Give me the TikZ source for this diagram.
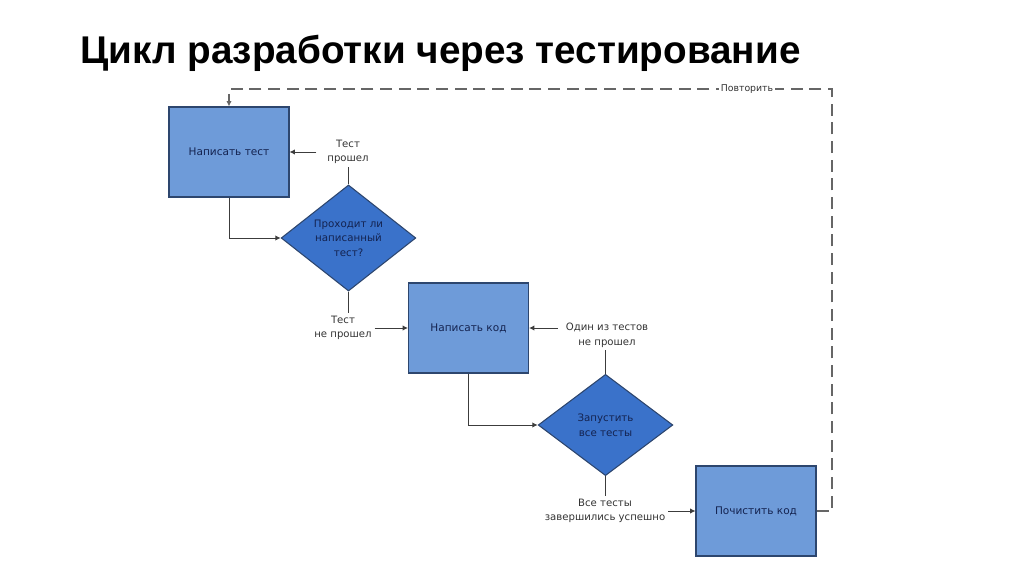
\documentclass[tikz,border=0pt]{standalone}
\usepackage{fontspec}
\setmainfont{DejaVu Sans}
\newfontfamily\titlefont{Liberation Sans}
\usetikzlibrary{arrows.meta,shapes.geometric}

\definecolor{boxblue}{RGB}{110,155,217}
\definecolor{diablue}{RGB}{58,114,202}
\definecolor{edgeblue}{RGB}{45,70,110}
\definecolor{inktext}{RGB}{20,35,80}
\definecolor{linkgray}{RGB}{60,60,60}

\begin{document}
\begin{tikzpicture}[
  x=0.75pt, y=-0.75pt,
  stepbox/.style={rectangle, draw=edgeblue, fill=boxblue, line width=0.8pt,
    minimum width=90pt, minimum height=67.5pt, text=inktext,
    font=\fontsize{7.9}{11}\selectfont},
  decision/.style={diamond, draw=edgeblue, fill=diablue, line width=0.8pt,
    inner sep=0pt, minimum width=101pt, minimum height=76pt, text=inktext,
    align=center, font=\fontsize{7.7}{11}\selectfont},
  note/.style={align=center, text=black!80, inner sep=2pt,
    font=\fontsize{7.6}{11}\selectfont},
  link/.style={draw=linkgray, line width=0.7pt, -{Latex[length=4pt,width=4pt]}},
  plain/.style={draw=linkgray, line width=0.7pt},
  again/.style={draw=black!60, line width=0.8pt, dash pattern=on 9pt off 5pt,
    -{Latex[length=4pt,width=4pt]}}
]
  \useasboundingbox (0,0) rectangle (1024,574);

  % Title
  \node[anchor=base west, inner sep=0pt, font=\titlefont\bfseries\fontsize{29}{34}\selectfont]
    (title) at (80,64) {Цикл разработки через тестирование};

  % Steps
  \node[stepbox] (wtest) at (229,152) {Написать тест};
  \node[decision] (check) at (348.5,238) {Проходит ли\\написанный\\тест?};
  \node[stepbox] (wcode) at (468.5,328) {Написать код};
  \node[decision] (run) at (605.5,425) {Запустить\\все тесты};
  \node[stepbox] (clean) at (756,511) {Почистить код};

  % Outcome labels
  \node[note] (passed) at (348,152) {Тест\\прошел};
  \node[note] (failed) at (343,328) {Тест\\не прошел};
  \node[note] (onefail) at (607,335) {Один из тестов\\не прошел};
  \node[note] (allpass) at (605,511) {Все тесты\\завершились успешно};

  % Flow
  \draw[link] (wtest.south) |- (check.west);
  \draw[plain] (check.north) -- (check.north |- passed.south);
  \draw[link] ([xshift=-6pt]passed.west) -- (wtest.east);
  \draw[plain] (check.south) -- (check.south |- failed.north);
  \draw[link] (failed.east) -- (wcode.west);
  \draw[link] (wcode.south) |- (run.west);
  \draw[plain] (run.north) -- (run.north |- onefail.south);
  \draw[link] ([xshift=-4pt]onefail.west |- wcode.east) -- (wcode.east);
  \draw[plain] (run.south) -- (run.south |- allpass.north);
  \draw[link] (allpass.east) -- (clean.west);

  % Repeat loop
  \coordinate (corner) at (832,89);
  \draw[again] (clean.east) -| (corner) -| (wtest.north);
  \node[note, fill=white, inner sep=1.5pt, font=\fontsize{7}{8}\selectfont]
    (repeat) at (747,89) {Повторить};
\end{tikzpicture}
\end{document}
